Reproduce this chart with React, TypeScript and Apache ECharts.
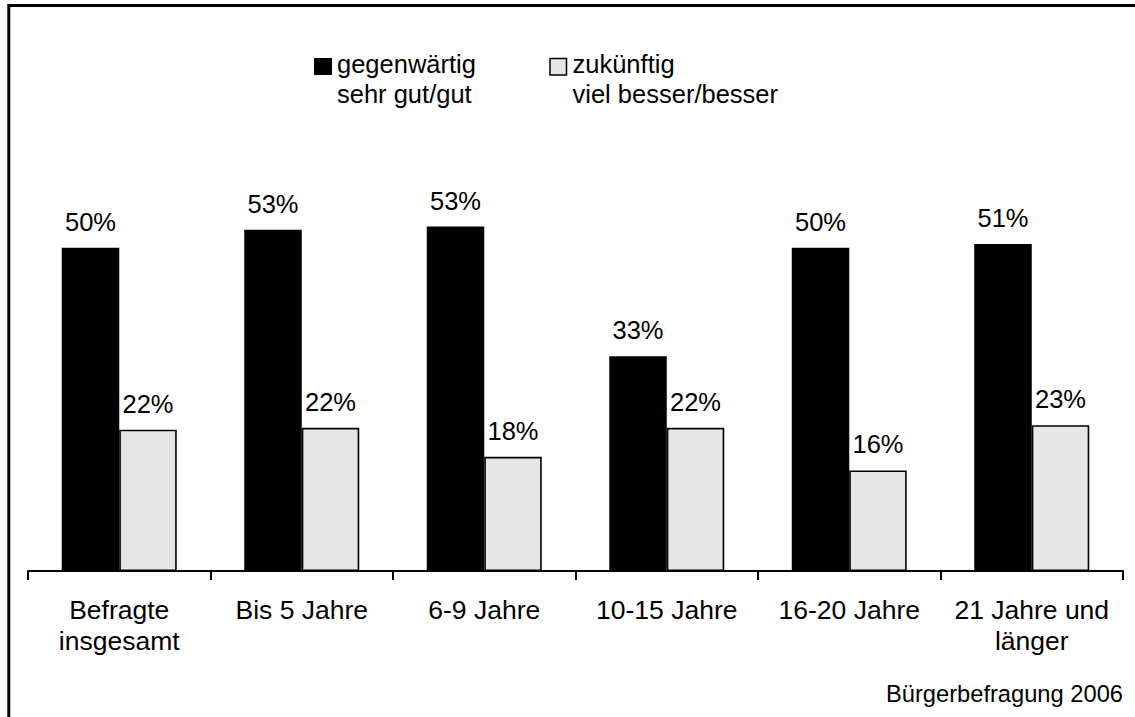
import React, { useEffect, useRef } from "react";
import * as echarts from "echarts";

const categories = [
  "Befragte\ninsgesamt",
  "Bis 5 Jahre",
  "6-9 Jahre",
  "10-15 Jahre",
  "16-20 Jahre",
  "21 Jahre und\nlänger",
];
const gegenwaertig = [50.1, 52.9, 53.4, 33.3, 50.1, 50.7];
const zukuenftig = [21.9, 22.2, 17.7, 22.2, 15.6, 22.6];
const legendNames = ["gegenwärtig\nsehr gut/gut", "zukünftig\nviel besser/besser"];
const sourceNote = "Bürgerbefragung 2006";

const FONT = "'Liberation Sans', Arial, sans-serif";

export default function App() {
  const ref = useRef<HTMLDivElement>(null);
  useEffect(() => {
    if (!ref.current) return;
    const chart = echarts.init(ref.current, null, { renderer: "svg" });
    const labelCfg = {
      show: true,
      position: "top",
      distance: 13,
      color: "#000",
      fontSize: 25.5,
      fontFamily: FONT,
      formatter: (p: any) => Math.round(p.value) + "%",
    };
    chart.setOption({
      animation: false,
      backgroundColor: "#fff",
      grid: { left: 28, right: 12, top: 184, bottom: 146, containLabel: false },
      xAxis: {
        type: "category",
        data: categories,
        axisLine: { show: true, lineStyle: { color: "#000", width: 2 } },
        axisTick: { show: true, length: 9, lineStyle: { color: "#000", width: 2 } },
        axisLabel: {
          color: "#000",
          fontSize: 26.5,
          fontFamily: FONT,
          lineHeight: 31,
          margin: 23,
          interval: 0,
        },
      },
      yAxis: {
        type: "value",
        min: 0,
        max: 60,
        show: false,
        splitLine: { show: false },
      },
      series: [
        {
          name: legendNames[0],
          type: "bar",
          data: gegenwaertig,
          barWidth: 57.5,
          barGap: "0%",
          itemStyle: { color: "#000" },
          label: labelCfg,
        },
        {
          name: legendNames[1],
          type: "bar",
          data: zukuenftig,
          barWidth: 57.5,
          itemStyle: { color: "#e6e6e6", borderColor: "#000", borderWidth: 1.6 },
          label: labelCfg,
        },
      ],
      graphic: [
        {
          type: "rect",
          silent: true,
          shape: { x: 8.8, y: 5.5, width: 1300, height: 900 },
          style: { fill: "none", stroke: "#000", lineWidth: 3 },
        },
        {
          type: "rect",
          shape: { x: 314, y: 58, width: 18, height: 17 },
          style: { fill: "#000" },
        },
        {
          type: "text",
          x: 337,
          y: 49,
          style: {
            text: legendNames[0],
            fill: "#000",
            fontSize: 25.5,
            fontFamily: FONT,
            lineHeight: 30,
            verticalAlign: "top",
            align: "left",
          },
        },
        {
          type: "rect",
          shape: { x: 550, y: 58.5, width: 16.5, height: 16.5 },
          style: { fill: "#e6e6e6", stroke: "#000", lineWidth: 1.5 },
        },
        {
          type: "text",
          x: 572.5,
          y: 49,
          style: {
            text: legendNames[1],
            fill: "#000",
            fontSize: 25.5,
            fontFamily: FONT,
            lineHeight: 30,
            verticalAlign: "top",
            align: "left",
          },
        },
        {
          type: "text",
          x: 1123,
          y: 693.7,
          style: {
            text: sourceNote,
            fill: "#000",
            fontSize: 23.7,
            fontFamily: FONT,
            verticalAlign: "middle",
            align: "right",
          },
        },
      ],
    });
    return () => chart.dispose();
  }, []);
  return (
    <div
      ref={ref}
      style={{ position: "fixed", left: 0, top: 0, width: 1135, height: 717 }}
    />
  );
}
